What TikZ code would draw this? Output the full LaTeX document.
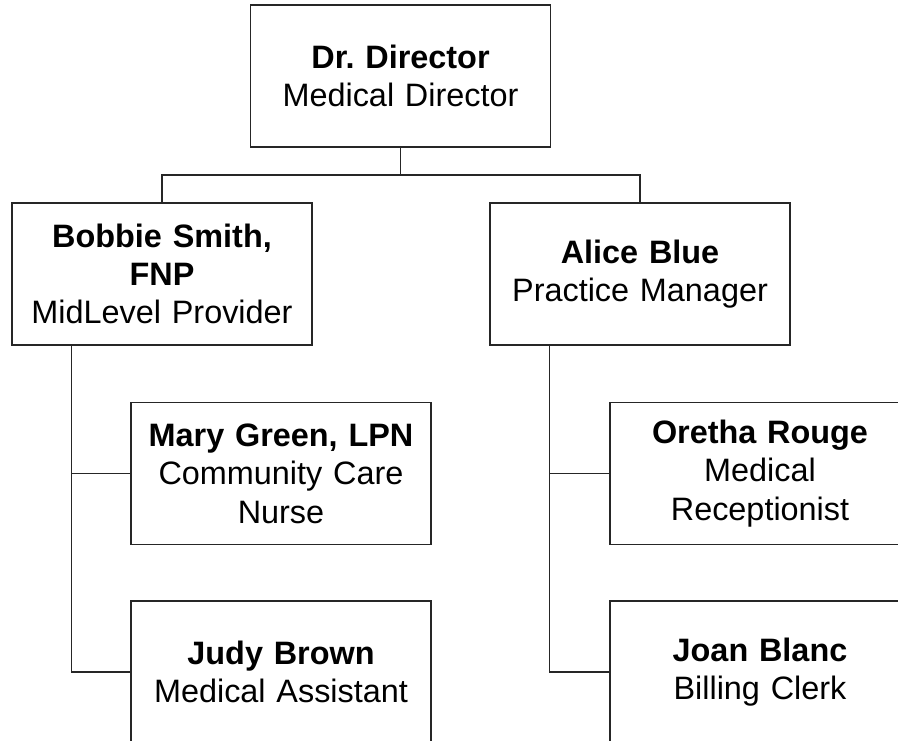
\documentclass[tikz,border=0pt]{standalone}
\usepackage{fontspec}
\setmainfont{Liberation Sans}
\usetikzlibrary{calc}

\tikzset{
  person/.style={draw=black!85, line width=0.6pt, minimum width=150pt, minimum height=71pt,
    text width=148pt, align=center, inner sep=0pt, font=\fontsize{16.2}{19.2}\selectfont\frenchspacing},
  link/.style={draw=black!85, line width=0.6pt}
}

\begin{document}
\begin{tikzpicture}[x=0.5pt,y=-0.5pt]
  \useasboundingbox (0,0) rectangle (898,740);
  \clip (0,0) rectangle (898,740);

  % top level
  \node[person] (director) at (400.5,76) {\textbf{Dr. Director}\\Medical Director};

  % second level
  \node[person] (bobbie) at (162,274) {\textbf{Bobbie Smith,}\\\textbf{FNP}\\MidLevel Provider};
  \node[person] (alice) at (640,274) {\textbf{Alice Blue}\\Practice Manager};

  % staff
  \node[person] (mary) at (281,473.5) {\textbf{Mary Green, LPN}\\Community Care\\Nurse};
  \node[person] (judy) at (281,672) {\textbf{Judy Brown}\\Medical Assistant};
  \node[person] (oretha) at (760,473.5) {\textbf{Oretha Rouge}\\Medical\\Receptionist};
  \node[person] (joan) at (760,672) {\textbf{Joan Blanc}\\Billing Clerk};

  % connectors
  \coordinate (bus) at ($(director.south)!0.5!(director.south |- bobbie.north)$);
  \draw[link] (director.south) -- (bus) -| (bobbie.north);
  \draw[link] (bus) -| (alice.north);

  \coordinate (lleg) at ([xshift=30pt]bobbie.south west);
  \coordinate (rleg) at ([xshift=30pt]alice.south west);
  \draw[link] (lleg) |- (mary.west);
  \draw[link] (lleg) |- (judy.west);
  \draw[link] (rleg) |- (oretha.west);
  \draw[link] (rleg) |- (joan.west);
\end{tikzpicture}
\end{document}
